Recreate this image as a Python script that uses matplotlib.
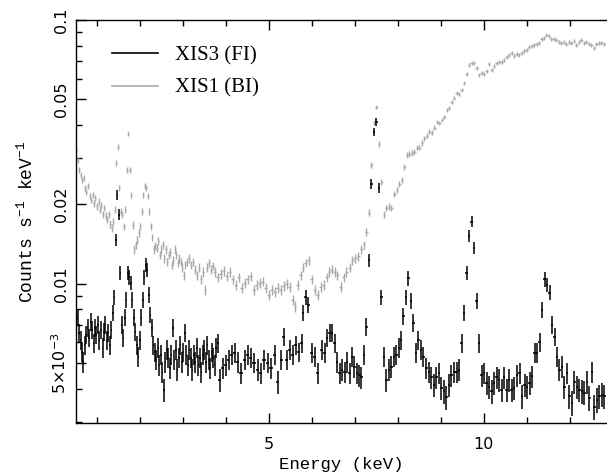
import numpy as np
import matplotlib
matplotlib.use("Agg")
import matplotlib.pyplot as plt
from matplotlib.lines import Line2D

plt.rcParams['mathtext.default'] = 'regular'

# ---------------- data ----------------
xis1_energy = [
    0.521, 0.556, 0.591, 0.625, 0.660, 0.695, 0.730, 0.764, 0.799, 0.834,
    0.869, 0.904, 0.938, 0.973, 1.008, 1.043, 1.078, 1.112, 1.147, 1.182,
    1.217, 1.252, 1.286, 1.321, 1.356, 1.391, 1.425, 1.460, 1.495, 1.530,
    1.565, 1.599, 1.634, 1.669, 1.704, 1.739, 1.773, 1.808, 1.843, 1.878,
    1.912, 1.947, 1.982, 2.017, 2.051, 2.086, 2.121, 2.156, 2.191, 2.225,
    2.260, 2.295, 2.330, 2.365, 2.399, 2.434, 2.469, 2.504, 2.539, 2.573,
    2.608, 2.643, 2.678, 2.712, 2.747, 2.782, 2.817, 2.851, 2.886, 2.921,
    2.956, 2.991, 3.025, 3.060, 3.095, 3.141, 3.188, 3.234, 3.281, 3.327,
    3.373, 3.420, 3.466, 3.512, 3.559, 3.605, 3.652, 3.698, 3.744, 3.814,
    3.883, 3.953, 4.023, 4.092, 4.162, 4.231, 4.301, 4.371, 4.440, 4.510,
    4.579, 4.649, 4.718, 4.788, 4.858, 4.927, 4.997, 5.066, 5.136, 5.206,
    5.275, 5.345, 5.414, 5.484, 5.554, 5.612, 5.670, 5.739, 5.797, 5.855,
    5.925, 5.994, 6.064, 6.134, 6.203, 6.273, 6.342, 6.400, 6.458, 6.528,
    6.597, 6.667, 6.737, 6.806, 6.876, 6.945, 7.015, 7.085, 7.154, 7.212,
    7.270, 7.328, 7.386, 7.444, 7.502, 7.560, 7.618, 7.676, 7.734, 7.792,
    7.849, 7.919, 7.977, 8.035, 8.093, 8.151, 8.209, 8.267, 8.325, 8.383,
    8.441, 8.499, 8.557, 8.615, 8.673, 8.731, 8.788, 8.846, 8.904, 8.962,
    9.020, 9.078, 9.136, 9.194, 9.252, 9.310, 9.368, 9.426, 9.484, 9.542,
    9.600, 9.658, 9.716, 9.774, 9.832, 9.890, 9.948, 10.006, 10.063, 10.121,
    10.179, 10.237, 10.295, 10.353, 10.411, 10.469, 10.527, 10.585, 10.643, 10.701,
    10.759, 10.817, 10.875, 10.933, 10.991, 11.049, 11.107, 11.164, 11.222, 11.280,
    11.338, 11.396, 11.454, 11.512, 11.570, 11.628, 11.686, 11.744, 11.802, 11.860,
    11.918, 11.976, 12.034, 12.092, 12.150, 12.208, 12.266, 12.324, 12.382, 12.439,
    12.497, 12.555, 12.613, 12.671, 12.729, 12.787,
]
xis1_rate = [
    0.0322, 0.0295, 0.0270, 0.0259, 0.0248, 0.0252, 0.0231, 0.0223, 0.0235, 0.0215,
    0.0208, 0.0217, 0.0202, 0.0212, 0.0197, 0.0205, 0.0191, 0.0199, 0.0184, 0.0194,
    0.0181, 0.0175, 0.0184, 0.0169, 0.0163, 0.0172, 0.0191, 0.0287, 0.0330, 0.0231,
    0.0188, 0.0183, 0.0165, 0.0191, 0.0270, 0.0370, 0.0270, 0.0217, 0.0167, 0.0135,
    0.0141, 0.0147, 0.0156, 0.0165, 0.0188, 0.0217, 0.0235, 0.0231, 0.0215, 0.0188,
    0.0165, 0.0150, 0.0135, 0.0139, 0.0137, 0.0145, 0.0129, 0.0135, 0.0141, 0.0125,
    0.0135, 0.0121, 0.0129, 0.0132, 0.0118, 0.0123, 0.0135, 0.0129, 0.0120, 0.0125,
    0.0121, 0.0115, 0.0108, 0.0118, 0.0121, 0.0125, 0.0118, 0.0121, 0.0113, 0.0108,
    0.0115, 0.0104, 0.0111, 0.00951, 0.0115, 0.0120, 0.0113, 0.0117, 0.0111, 0.0106,
    0.0109, 0.0112, 0.0107, 0.0111, 0.0104, 0.00993, 0.0106, 0.00968, 0.0101, 0.0104,
    0.0107, 0.00951, 0.00993, 0.0101, 0.0102, 0.00968, 0.00910, 0.00951, 0.00935, 0.00968,
    0.00951, 0.00985, 0.0100, 0.00976, 0.00871, 0.00820, 0.00993, 0.0108, 0.0115, 0.0120,
    0.0123, 0.0104, 0.00951, 0.00910, 0.00976, 0.00993, 0.0106, 0.0111, 0.0113, 0.0111,
    0.0108, 0.00976, 0.0106, 0.0111, 0.0115, 0.0123, 0.0125, 0.0127, 0.0135, 0.0141,
    0.0157, 0.0186, 0.0282, 0.0407, 0.0468, 0.0339, 0.0243, 0.0183, 0.0194, 0.0196,
    0.0194, 0.0219, 0.0227, 0.0239, 0.0248, 0.0277, 0.0308, 0.0311, 0.0313, 0.0316,
    0.0328, 0.0328, 0.0342, 0.0357, 0.0364, 0.0377, 0.0374, 0.0390, 0.0411, 0.0407,
    0.0418, 0.0429, 0.0456, 0.0464, 0.0489, 0.0506, 0.0529, 0.0525, 0.0543, 0.0577,
    0.0624, 0.0675, 0.0687, 0.0687, 0.0658, 0.0619, 0.0630, 0.0624, 0.0641, 0.0681,
    0.0647, 0.0670, 0.0687, 0.0693, 0.0693, 0.0705, 0.0724, 0.0737, 0.0750, 0.0731,
    0.0743, 0.0737, 0.0750, 0.0763, 0.0770, 0.0790, 0.0797, 0.0804, 0.0811, 0.0818,
    0.0847, 0.0855, 0.0878, 0.0870, 0.0847, 0.0847, 0.0840, 0.0825, 0.0818, 0.0825,
    0.0811, 0.0825, 0.0818, 0.0833, 0.0804, 0.0825, 0.0840, 0.0818, 0.0825, 0.0811,
    0.0804, 0.0783, 0.0811, 0.0818, 0.0818, 0.0811,
]

xis3_energy = [
    0.521, 0.556, 0.591, 0.625, 0.660, 0.683, 0.718, 0.753, 0.788, 0.822,
    0.857, 0.892, 0.927, 0.962, 0.996, 1.031, 1.066, 1.101, 1.136, 1.170,
    1.205, 1.240, 1.275, 1.309, 1.344, 1.379, 1.414, 1.449, 1.483, 1.518,
    1.553, 1.588, 1.622, 1.657, 1.692, 1.727, 1.762, 1.796, 1.831, 1.866,
    1.901, 1.936, 1.970, 2.005, 2.040, 2.075, 2.109, 2.144, 2.179, 2.214,
    2.249, 2.283, 2.318, 2.353, 2.388, 2.423, 2.457, 2.492, 2.527, 2.562,
    2.597, 2.631, 2.666, 2.701, 2.736, 2.770, 2.805, 2.840, 2.875, 2.910,
    2.944, 2.979, 3.014, 3.049, 3.083, 3.118, 3.153, 3.188, 3.223, 3.257,
    3.292, 3.327, 3.362, 3.397, 3.431, 3.466, 3.501, 3.536, 3.570, 3.605,
    3.640, 3.675, 3.710, 3.744, 3.779, 3.814,
    3.860, 3.930, 3.999, 4.069, 4.139, 4.208, 4.278, 4.359, 4.440, 4.510,
    4.579, 4.660, 4.741, 4.811, 4.892, 4.974, 5.055, 5.136, 5.206, 5.287,
    5.345, 5.414, 5.484, 5.554, 5.623, 5.693, 5.762, 5.797, 5.855, 5.913,
    5.994, 6.064, 6.134, 6.226, 6.296, 6.354, 6.412, 6.470, 6.528, 6.586,
    6.644, 6.702, 6.760, 6.818, 6.876, 6.934, 6.992, 7.050, 7.108, 7.154,
    7.212, 7.270, 7.328, 7.386, 7.444, 7.502, 7.560, 7.618, 7.676, 7.734,
    7.792, 7.849, 7.907, 7.965, 8.023, 8.081, 8.128, 8.186, 8.244, 8.302,
    8.360, 8.418, 8.476, 8.534, 8.592, 8.661, 8.719, 8.777, 8.835, 8.893,
    8.951, 9.009, 9.067, 9.125, 9.183, 9.241, 9.310, 9.368, 9.426, 9.484,
    9.542, 9.600, 9.658, 9.716, 9.774, 9.832, 9.890, 9.948, 10.006, 10.063,
    10.121, 10.179, 10.237, 10.295, 10.353, 10.411, 10.469, 10.527, 10.585, 10.643,
    10.701, 10.771, 10.829, 10.887, 10.945, 11.003, 11.061, 11.119, 11.177, 11.235,
    11.293, 11.350, 11.408, 11.466, 11.524, 11.582, 11.640, 11.698, 11.756, 11.814,
    11.872, 11.930, 11.988, 12.046, 12.104, 12.162, 12.220, 12.278, 12.336, 12.394,
    12.452, 12.510, 12.568, 12.626, 12.684, 12.741, 12.799,
]
xis3_rate = [
    0.00700, 0.00745, 0.00654, 0.00614, 0.00552, 0.00507, 0.00588, 0.00642, 0.00682, 0.00625,
    0.00718, 0.00670, 0.00598, 0.00682, 0.00642, 0.00700, 0.00614, 0.00670, 0.00573, 0.00659,
    0.00700, 0.00614, 0.00654, 0.00588, 0.00670, 0.00777, 0.00889, 0.0147, 0.0217, 0.0183,
    0.0110, 0.00700, 0.00625, 0.00745, 0.00871, 0.0110, 0.0106, 0.0101, 0.00871, 0.00745,
    0.00659, 0.00588, 0.00530, 0.00614, 0.00745, 0.00871, 0.0106, 0.0118, 0.0113, 0.00910,
    0.00764, 0.00682, 0.00588, 0.00552, 0.00516, 0.00573, 0.00494, 0.00539, 0.00464, 0.00397,
    0.00507, 0.00563, 0.00525, 0.00481, 0.00539, 0.00682, 0.00516, 0.00563, 0.00473, 0.00525,
    0.00588, 0.00507, 0.00552, 0.00654, 0.00539, 0.00494, 0.00563, 0.00525, 0.00473, 0.00539,
    0.00507, 0.00573, 0.00494, 0.00525, 0.00464, 0.00539, 0.00563, 0.00507, 0.00588, 0.00516,
    0.00481, 0.00552, 0.00525, 0.00494, 0.00573, 0.00598,
    0.00433, 0.00481, 0.00494, 0.00516, 0.00539, 0.00548, 0.00507, 0.00460, 0.00516, 0.00539,
    0.00525, 0.00503, 0.00473, 0.00460, 0.00516, 0.00503, 0.00481, 0.00539, 0.00425, 0.00516,
    0.00631, 0.00516, 0.00563, 0.00539, 0.00588, 0.00552, 0.00598, 0.00777, 0.00889, 0.00834,
    0.00548, 0.00530, 0.00460, 0.00563, 0.00548, 0.00625, 0.00654, 0.00654, 0.00598, 0.00507,
    0.00460, 0.00473, 0.00464, 0.00507, 0.00460, 0.00530, 0.00486, 0.00460, 0.00451, 0.00442,
    0.00539, 0.00688, 0.0123, 0.0239, 0.0377, 0.0411, 0.0231, 0.00889, 0.00530, 0.00433,
    0.00473, 0.00486, 0.00530, 0.00539, 0.00573, 0.00614, 0.00757, 0.00889, 0.0105, 0.00864,
    0.00712, 0.00548, 0.00614, 0.00563, 0.00530, 0.00481, 0.00464, 0.00442, 0.00415, 0.00442,
    0.00460, 0.00404, 0.00391, 0.00372, 0.00415, 0.00451, 0.00464, 0.00464, 0.00473, 0.00598,
    0.00777, 0.0110, 0.0152, 0.0172, 0.0137, 0.00864, 0.00598, 0.00451, 0.00460, 0.00420,
    0.00408, 0.00391, 0.00420, 0.00442, 0.00433, 0.00397, 0.00442, 0.00397, 0.00433, 0.00397,
    0.00404, 0.00451, 0.00460, 0.00375, 0.00415, 0.00408, 0.00420, 0.00446, 0.00548, 0.00548,
    0.00604, 0.00798, 0.0104, 0.00993, 0.00927, 0.00700, 0.00631, 0.00530, 0.00473, 0.00486,
    0.00408, 0.00460, 0.00375, 0.00355, 0.00425, 0.00408, 0.00397, 0.00391, 0.00387, 0.00425,
    0.00370, 0.00464, 0.00341, 0.00364, 0.00375, 0.00380, 0.00375,
]

series_labels = ["XIS3 (FI)", "XIS1 (BI)"]
series_colors = ["#000000", "#aaaaaa"]

y_major = [0.005, 0.01, 0.02, 0.05, 0.1]
y_major_labels = [r"5$\times$10$^{-3}$", "0.01", "0.02", "0.05", "0.1"]
y_minor = [0.003, 0.004, 0.006, 0.007, 0.008, 0.009, 0.03, 0.04, 0.06, 0.07, 0.08, 0.09]
x_major = [5, 10]
x_minor = [1, 2, 3, 4, 6, 7, 8, 9, 11, 12]


def bin_half_widths(e):
    e = np.asarray(e)
    return np.gradient(e) / 2.0


def rate_errors(v, k):
    v = np.asarray(v)
    return k * np.sqrt(v)


# ---------------- figure ----------------
fig = plt.figure(figsize=(6.07, 4.72), dpi=100)
ax = fig.add_axes([76 / 607, 1 - 423 / 472, 1 - 76 / 607, (423 - 20) / 472])

ax.set_yscale("log")

e1 = np.asarray(xis1_energy)
v1 = np.asarray(xis1_rate)
ax.errorbar(e1, v1, xerr=bin_half_widths(e1), yerr=rate_errors(v1, 0.0042),
            fmt="none", ecolor=series_colors[1], elinewidth=1.0, capsize=0)

e3 = np.asarray(xis3_energy)
v3 = np.asarray(xis3_rate)
ax.errorbar(e3, v3, xerr=bin_half_widths(e3), yerr=rate_errors(v3, 0.0064),
            fmt="none", ecolor=series_colors[0], elinewidth=1.1, capsize=0)

ax.set_xlim(0.52, 12.86)
ax.set_ylim(0.00297, 0.1)

ax.set_yticks(y_major)
ax.set_yticklabels(y_major_labels)
ax.set_yticks(y_minor, minor=True)
ax.yaxis.set_minor_formatter(matplotlib.ticker.NullFormatter())
ax.set_xticks(x_major)
ax.set_xticklabels([str(v) for v in x_major])
ax.set_xticks(x_minor, minor=True)

ax.tick_params(which="both", direction="in", top=True, right=False, width=1.0, colors="black")
ax.tick_params(which="major", length=7)
ax.tick_params(which="minor", length=4)
ax.tick_params(axis="x", which="major", labelsize=11.5, pad=10)
ax.tick_params(axis="y", which="major", labelsize=11.5, pad=5)
for lbl in ax.get_xticklabels():
    lbl.set_family("DejaVu Sans")
for lbl in ax.get_yticklabels():
    lbl.set_family("DejaVu Sans")
    lbl.set_rotation(90)
    lbl.set_va("center")

for side in ["left", "bottom", "top"]:
    ax.spines[side].set_linewidth(1.0)
ax.spines["right"].set_visible(False)

ax.set_xlabel("Energy (keV)", family="Liberation Mono", fontsize=12.5, labelpad=4)
ax.set_ylabel(r"Counts s$^{-1}$ keV$^{-1}$", family="Liberation Mono", fontsize=13, labelpad=10)

handles = [Line2D([], [], color=series_colors[0], lw=1.2),
           Line2D([], [], color=series_colors[1], lw=1.2)]
leg = ax.legend(handles, series_labels, loc="upper left", bbox_to_anchor=(0.068, 0.935),
                frameon=False, borderpad=0, borderaxespad=0, handlelength=2.2,
                handletextpad=0.8, labelspacing=0.6,
                prop={"family": "Liberation Serif", "size": 15})

fig.savefig("out.png", dpi=100)
